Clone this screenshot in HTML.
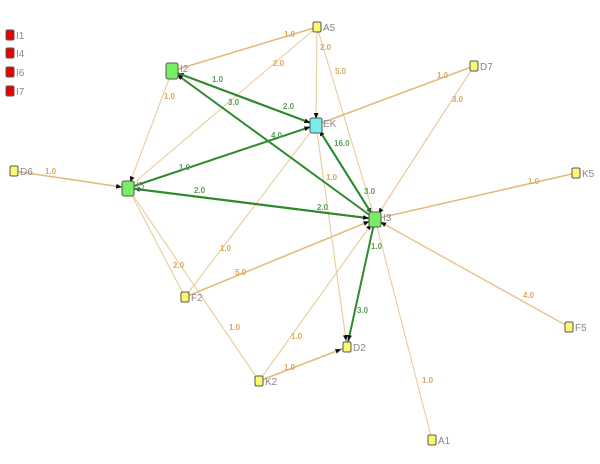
<!DOCTYPE html>
<html><head><meta charset="utf-8"><style>
html,body{margin:0;padding:0;background:#fff;width:600px;height:464px;overflow:hidden}
svg text{font-family:"Liberation Sans",sans-serif}
.t{stroke:#ebcb9b;stroke-width:1.1;fill:none}
.tt{stroke:#e4b878;stroke-width:1.5;fill:none}
.g{stroke:#2f8a2f;stroke-width:2;fill:none}
.lt{fill:#dba860;font-size:8px;font-weight:bold}
.lg{fill:#5aa05a;font-size:8px;font-weight:bold}
.nl{fill:#888;font-size:10px}
</style></head><body>
<svg width="600" height="464" viewBox="0 0 600 464" xmlns="http://www.w3.org/2000/svg">
<defs>
<marker id="a" viewBox="0 0 10 10" refX="20" refY="5" markerWidth="6" markerHeight="6" markerUnits="userSpaceOnUse" orient="auto"><path d="M0,1L10,5L0,9z" fill="#111"/></marker>
</defs>
<!-- tan edges -->
<line class="tt" x1="317" y1="27" x2="172" y2="71"/>
<line class="t" x1="317" y1="27" x2="128" y2="188"/>
<line class="t" x1="317" y1="27" x2="316" y2="125" marker-end="url(#a)"/>
<line class="t" x1="317" y1="27" x2="375" y2="219"/>
<line class="tt" x1="474" y1="66" x2="316" y2="125"/>
<line class="t" x1="474" y1="66" x2="375" y2="219"/>
<line class="tt" x1="576" y1="173" x2="375" y2="219"/>
<line class="tt" x1="569" y1="327" x2="375" y2="219"/>
<line class="t" x1="432" y1="440" x2="375" y2="219"/>
<line class="tt" x1="14" y1="171" x2="128" y2="188" marker-end="url(#a)"/>
<line class="t" x1="172" y1="71" x2="128" y2="188" marker-end="url(#a)"/>
<line class="t" x1="128" y1="188" x2="185" y2="297"/>
<line class="t" x1="128" y1="188" x2="259" y2="381"/>
<line class="t" x1="185" y1="297" x2="316" y2="125"/>
<line class="tt" x1="185" y1="297" x2="375" y2="219" marker-end="url(#a)"/>
<line class="t" x1="259" y1="381" x2="375" y2="219" marker-end="url(#a)"/>
<line class="tt" x1="259" y1="381" x2="347" y2="347" marker-end="url(#a)"/>
<line class="t" x1="316" y1="125" x2="347" y2="347" marker-end="url(#a)"/>
<line class="t" x1="474" y1="66" x2="375" y2="219" marker-end="url(#a)"/>
<line class="t" x1="569" y1="327" x2="375" y2="219" marker-end="url(#a)"/>
<!-- green edges -->
<line class="g" x1="316" y1="125" x2="172" y2="71" marker-end="url(#a)"/>
<line class="g" x1="172" y1="71" x2="316" y2="125" marker-end="url(#a)"/>
<line class="g" x1="375" y1="219" x2="172" y2="71" marker-end="url(#a)"/>
<line class="g" x1="128" y1="188" x2="316" y2="125" marker-end="url(#a)"/>
<line class="g" x1="375" y1="219" x2="128" y2="188" marker-end="url(#a)"/>
<line class="g" x1="128" y1="188" x2="375" y2="219" marker-end="url(#a)"/>
<line class="g" x1="316" y1="125" x2="375" y2="219" marker-end="url(#a)"/>
<line class="g" x1="375" y1="219" x2="316" y2="125" marker-end="url(#a)"/>
<line class="g" x1="375" y1="219" x2="347" y2="347" marker-end="url(#a)"/>
<!-- tan labels -->
<text class="lt" x="284" y="37">1.0</text>
<text class="lt" x="273" y="66">2.0</text>
<text class="lt" x="320" y="50">2.0</text>
<text class="lt" x="335" y="74">5.0</text>
<text class="lt" x="437" y="78">1.0</text>
<text class="lt" x="452" y="102">3.0</text>
<text class="lt" x="528" y="184">1.0</text>
<text class="lt" x="523" y="298">4.0</text>
<text class="lt" x="422" y="383">1.0</text>
<text class="lt" x="45" y="174">1.0</text>
<text class="lt" x="164" y="99">1.0</text>
<text class="lt" x="173" y="268">2.0</text>
<text class="lt" x="229" y="330">1.0</text>
<text class="lt" x="220" y="251">1.0</text>
<text class="lt" x="235" y="275">5.0</text>
<text class="lt" x="291" y="339">1.0</text>
<text class="lt" x="284" y="370">1.0</text>
<text class="lt" x="326" y="180">1.0</text>
<!-- green labels -->
<text class="lg" x="212" y="82">1.0</text>
<text class="lg" x="283" y="109">2.0</text>
<text class="lg" x="228" y="105">3.0</text>
<text class="lg" x="271" y="138">4.0</text>
<text class="lg" x="179" y="170">1.0</text>
<text class="lg" x="194" y="193">2.0</text>
<text class="lg" x="317" y="210">2.0</text>
<text class="lg" x="334" y="146">16.0</text>
<text class="lg" x="364" y="194">3.0</text>
<text class="lg" x="371" y="249">1.0</text>
<text class="lg" x="357" y="313">3.0</text>
<!-- nodes -->
<g stroke="#555" stroke-width="1">
<rect x="6" y="30" width="8" height="10" rx="1.5" fill="#e00"/>
<rect x="6" y="48" width="8" height="10" rx="1.5" fill="#e00"/>
<rect x="6" y="67" width="8" height="10" rx="1.5" fill="#e00"/>
<rect x="6" y="86" width="8" height="10" rx="1.5" fill="#e00"/>
<rect x="313" y="22" width="8" height="10" rx="1.5" fill="#fafa70"/>
<rect x="470" y="61" width="8" height="10" rx="1.5" fill="#fafa70"/>
<rect x="572" y="168" width="8" height="10" rx="1.5" fill="#fafa70"/>
<rect x="565" y="322" width="8" height="10" rx="1.5" fill="#fafa70"/>
<rect x="343" y="342" width="8" height="10" rx="1.5" fill="#fafa70"/>
<rect x="255" y="376" width="8" height="10" rx="1.5" fill="#fafa70"/>
<rect x="181" y="292" width="8" height="10" rx="1.5" fill="#fafa70"/>
<rect x="428" y="435" width="8" height="10" rx="1.5" fill="#fafa70"/>
<rect x="10" y="166" width="8" height="10" rx="1.5" fill="#fafa70"/>
<rect x="166" y="63" width="12" height="16" rx="2" fill="#77ee66"/>
<rect x="122" y="181" width="12" height="15" rx="2" fill="#77ee66"/>
<rect x="369" y="212" width="12" height="15" rx="2" fill="#77ee66"/>
<rect x="310" y="118" width="12" height="15" rx="2" fill="#77eeee"/>
</g>
<!-- node labels -->
<text class="nl" x="16" y="39">I1</text>
<text class="nl" x="16" y="57">I4</text>
<text class="nl" x="16" y="76">I6</text>
<text class="nl" x="16" y="95">I7</text>
<text class="nl" x="323" y="31">A5</text>
<text class="nl" x="480" y="70">D7</text>
<text class="nl" x="582" y="177">K5</text>
<text class="nl" x="575" y="331">F5</text>
<text class="nl" x="353" y="351">D2</text>
<text class="nl" x="265" y="385">K2</text>
<text class="nl" x="191" y="301">F2</text>
<text class="nl" x="438" y="444">A1</text>
<text class="nl" x="20" y="175">D6</text>
<text class="nl" x="180" y="72">I2</text>
<text class="nl" x="136" y="189">I5</text>
<text class="nl" x="383" y="221">I3</text>
<text class="nl" x="323" y="127">EK</text>
</svg>
</body></html>
